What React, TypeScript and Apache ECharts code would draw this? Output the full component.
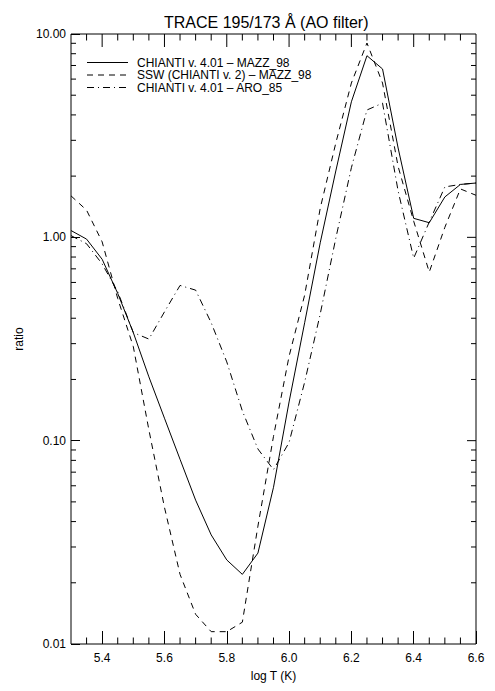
import * as React from "react";
import * as echarts from "echarts";

// log T grid (step 0.05)
const LOG_T = [
  5.3, 5.35, 5.4, 5.45, 5.5, 5.55, 5.6, 5.65, 5.7, 5.75, 5.8, 5.85, 5.9, 5.95,
  6.0, 6.05, 6.1, 6.15, 6.2, 6.25, 6.3, 6.35, 6.4, 6.45, 6.5, 6.55, 6.6,
];

// CHIANTI v. 4.01 - MAZZ_98 (solid)
const CHIANTI_MAZZ = [
  1.08, 0.98, 0.78, 0.53, 0.34, 0.206, 0.129, 0.081, 0.051, 0.0344, 0.0259, 0.022, 0.028, 0.059,
  0.155, 0.38, 0.94, 2.12, 4.64, 7.82, 6.73, 2.75, 1.24, 1.18, 1.58, 1.82, 1.85,
];

// SSW (CHIANTI v. 2) - MAZZ_98 (dashed)
const SSW_MAZZ = [
  1.6, 1.36, 0.95, 0.5, 0.29, 0.113, 0.047, 0.022, 0.014, 0.0115, 0.0115, 0.0128, 0.038, 0.105,
  0.26, 0.52, 1.39, 2.91, 5.74, 9.03, 5.74, 2.23, 1.2, 0.675, 1.12, 1.73, 1.61,
];

// CHIANTI v. 4.01 - ARO_85 (dash-dot)
const CHIANTI_ARO = [
  1.02, 0.93, 0.74, 0.54, 0.34, 0.316, 0.43, 0.58, 0.55, 0.38, 0.244, 0.14, 0.091, 0.072,
  0.098, 0.194, 0.42, 0.99, 2.2, 4.23, 4.57, 1.69, 0.79, 1.19, 1.77, 1.82, 1.85,
];

const NAMES = [
  "CHIANTI v. 4.01 – MAZZ_98",
  "SSW (CHIANTI v. 2) – MAZZ_98",
  "CHIANTI v. 4.01 – ARO_85",
];
const DASHES: (number[] | null)[] = [null, [6, 5], [7, 4, 1, 4]];

// tick positions for the mirrored / minor ticks
const X_MAJOR = [5.4, 5.6, 5.8, 6.0, 6.2, 6.4];
const X_MINOR = [
  5.35, 5.45, 5.5, 5.55, 5.65, 5.7, 5.75, 5.85, 5.9, 5.95, 6.05, 6.1, 6.15,
  6.25, 6.3, 6.35, 6.45, 6.5, 6.55,
];
const Y_MAJOR = [0.1, 1];
const Y_MINOR = [
  0.02, 0.03, 0.04, 0.05, 0.06, 0.07, 0.08, 0.09,
  0.2, 0.3, 0.4, 0.5, 0.6, 0.7, 0.8, 0.9,
  2, 3, 4, 5, 6, 7, 8, 9,
];

const X_MIN = 5.3;
const X_MAX = 6.6;
const Y_MIN = 0.01;
const Y_MAX = 10;
const FONT = "Liberation Sans, Arial, sans-serif";

export default function App() {
  const ref = React.useRef<HTMLDivElement | null>(null);

  React.useEffect(() => {
    if (!ref.current) return;
    const chart = echarts.init(ref.current, undefined, { renderer: "svg" });
    const pts = (ys: number[]) => LOG_T.map((x, i) => [x, ys[i]]);

    // one short inward tick per data point, direction (dx, dy) in pixels
    const ticks = (data: number[][], dx: number, dy: number) => ({
      type: "custom",
      data,
      renderItem: (_p: unknown, api: any) => {
        const p = api.coord([api.value(0), api.value(1)]);
        return {
          type: "line",
          shape: { x1: p[0], y1: p[1], x2: p[0] + dx, y2: p[1] + dy },
          style: { stroke: "#000", lineWidth: 1 },
        };
      },
    });

    // legend rows, anchored to the top-left corner of the plot
    const legendRows = NAMES.map((_n, i) => [X_MIN, Y_MAX, i]);
    const legendLines = {
      type: "custom",
      data: legendRows,
      renderItem: (_p: unknown, api: any) => {
        const c = api.coord([api.value(0), api.value(1)]);
        const i = api.value(2);
        const y = c[1] + 28.5 + i * 12.5;
        return {
          type: "line",
          shape: { x1: c[0] + 16, y1: y, x2: c[0] + 57, y2: y },
          style: { stroke: "#000", lineWidth: 1, lineDash: DASHES[i] ?? undefined },
        };
      },
    };
    const legendTexts = {
      type: "custom",
      data: legendRows,
      renderItem: (_p: unknown, api: any) => {
        const c = api.coord([api.value(0), api.value(1)]);
        const i = api.value(2);
        return {
          type: "text",
          x: c[0] + 66,
          y: c[1] + 28.5 + i * 12.5,
          style: {
            text: NAMES[i], fill: "#000", font: `12px ${FONT}`,
            verticalAlign: "middle", align: "left",
          },
        };
      },
    };

    chart.setOption({
      animation: false,
      title: {
        text: "TRACE 195/173 Å (AO filter)",
        left: 159,
        top: 9,
        textStyle: { fontFamily: FONT, fontSize: 16, fontWeight: "normal", color: "#000" },
      },
      grid: { left: 71, right: 19, top: 34, bottom: 47, show: true, borderColor: "#000", borderWidth: 1 },
      xAxis: {
        type: "value", min: X_MIN, max: X_MAX, splitNumber: 6,
        splitLine: { show: false },
        axisLine: { show: false },
        axisTick: { show: true, inside: true, length: 13, lineStyle: { color: "#000", width: 1 } },
        axisLabel: {
          color: "#000", fontSize: 12, margin: 8, fontFamily: FONT, showMinLabel: false,
          formatter: (v: number) => v.toFixed(1),
        },
        name: "log T (K)", nameLocation: "middle", nameGap: 26,
        nameTextStyle: { fontSize: 12, color: "#000", fontFamily: FONT },
      },
      yAxis: {
        type: "log", logBase: 10, min: Y_MIN, max: Y_MAX,
        splitLine: { show: false },
        axisLine: { show: false },
        axisTick: { show: true, inside: true, length: 9, lineStyle: { color: "#000", width: 1 } },
        axisLabel: {
          color: "#000", fontSize: 12, margin: 5, fontFamily: FONT,
          formatter: (v: number) => v.toFixed(2),
        },
        name: "ratio", nameLocation: "middle", nameGap: 46, nameRotate: 90,
        nameTextStyle: { fontSize: 12, color: "#000", fontFamily: FONT },
      },
      series: [
        ...NAMES.map((name, i) => ({
          name,
          type: "line",
          data: pts([CHIANTI_MAZZ, SSW_MAZZ, CHIANTI_ARO][i]),
          symbol: "none",
          lineStyle: { color: "#000", width: 1, type: DASHES[i] ?? "solid" },
        })),
        ticks(X_MINOR.map((x) => [x, Y_MIN]), 0, -6.5),
        ticks(X_MINOR.map((x) => [x, Y_MAX]), 0, 6.5),
        ticks(X_MAJOR.map((x) => [x, Y_MAX]), 0, 13),
        ticks(Y_MINOR.map((v) => [X_MIN, v]), 5, 0),
        ticks(Y_MINOR.map((v) => [X_MAX, v]), -5, 0),
        ticks(Y_MAJOR.map((v) => [X_MAX, v]), -9, 0),
        legendLines,
        legendTexts,
      ],
    });

    return () => chart.dispose();
  }, []);

  return (
    <div
      ref={ref}
      style={{ position: "fixed", left: 0, top: 0, width: 495, height: 691, background: "#fff" }}
    />
  );
}
